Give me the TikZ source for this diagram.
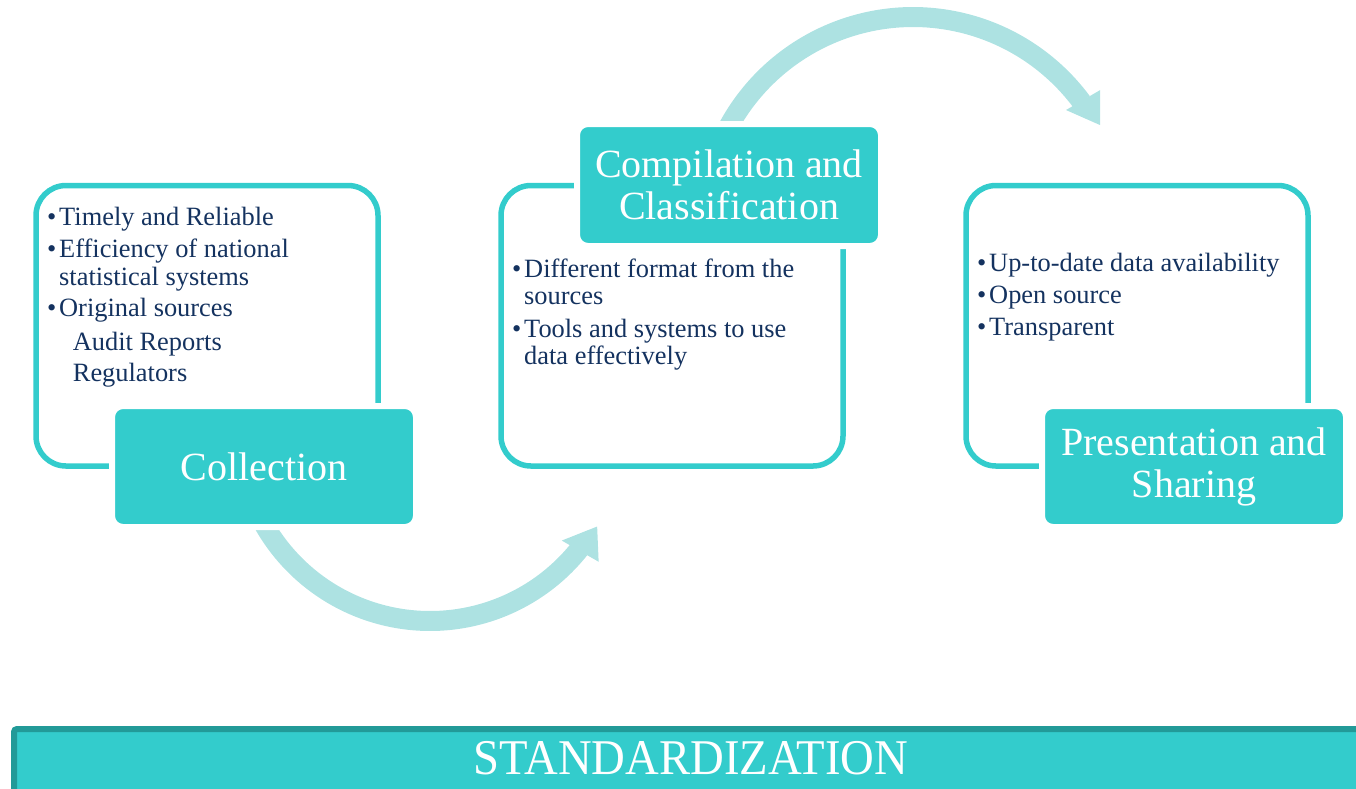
\documentclass[tikz,border=0pt]{standalone}
\usepackage{fontspec}
\setmainfont{Liberation Serif}
\definecolor{tealbox}{RGB}{51,204,204}
\definecolor{arrowteal}{RGB}{173,226,226}
\definecolor{darkteal}{RGB}{34,154,152}
\definecolor{navytext}{RGB}{20,50,95}
\begin{document}
\begin{tikzpicture}[x=1pt,y=-1pt,
  outline/.style={draw=tealbox, line width=5.5pt, rounded corners=30pt, minimum width=342pt, minimum height=280.5pt, inner sep=0pt},
  labelbox/.style={fill=tealbox, draw=white, line width=6pt, rounded corners=11pt, minimum width=304pt, minimum height=121pt, inner sep=0pt, text=white, font=\fontsize{40}{42}\selectfont, align=center},
  bodytext/.style={anchor=base west, inner sep=0pt, text=navytext, font=\fontsize{26.4}{28}\selectfont},
  arrowshaft/.style={draw=arrowteal, line width=20pt},
  arrowheadfill/.style={fill=arrowteal},
]
\useasboundingbox (0,0) rectangle (1356,788);

% curved arrows
\draw[arrowshaft] plot[domain=155:38.5, samples=90] ({430+191*cos(\x)},{430+191*sin(\x)});
\fill[arrowheadfill] ({430+172*cos(40)},{430+172*sin(40)}) -- ({430+214*cos(38)},{430+214*sin(38)}) -- ({430+193*cos(30)},{430+193*sin(30)}) -- cycle;
\draw[arrowshaft] plot[domain=-155:-36.5, samples=90] ({913+210*cos(\x)},{227+210*sin(\x)});
\fill[arrowheadfill] ({913+192.6*cos(-37.4)},{227+192.6*sin(-37.4)}) -- ({913+231.8*cos(-36.2)},{227+231.8*sin(-36.2)}) -- ({913+213*cos(-28.6)},{227+213*sin(-28.6)}) -- cycle;

% outline boxes
\node (o1) [outline] at (207,325.75) {};
\node (o2) [outline] at (672,325.75) {};
\node (o3) [outline] at (1137,325.75) {};

% label boxes
\node (l1) [labelbox] at (264,466.5) {Collection};
\node (l2) [labelbox, minimum height=122pt] at (729,185) {Compilation and\\Classification};
\node (l3) [labelbox] at (1194,466.5) {Presentation and\\Sharing};

% body text
\node (b1a) [bodytext] at (47,225) {\makebox[12pt][l]{•}Timely and Reliable};
\node (b1b) [bodytext] at (47,257.3) {\makebox[12pt][l]{•}Efficiency of national};
\node (b1c) [bodytext] at (59,285) {statistical systems};
\node (b1d) [bodytext] at (47,316.7) {\makebox[12pt][l]{•}Original sources};
\node (b1e) [bodytext] at (72.7,350) {Audit Reports};
\node (b1f) [bodytext] at (72.7,381.7) {Regulators};

\node (b2a) [bodytext] at (512,277.3) {\makebox[12pt][l]{•}Different format from the};
\node (b2b) [bodytext] at (524,304.3) {sources};
\node (b2c) [bodytext] at (512,337.3) {\makebox[12pt][l]{•}Tools and systems to use};
\node (b2d) [bodytext] at (524,364.3) {data effectively};

\node (b3a) [bodytext] at (977,271) {\makebox[12pt][l]{•}Up-to-date data availability};
\node (b3b) [bodytext] at (977,303.3) {\makebox[12pt][l]{•}Open source};
\node (b3c) [bodytext] at (977,335.7) {\makebox[12pt][l]{•}Transparent};

% bottom bar
\node (bar) [draw=darkteal, fill=tealbox, line width=6pt, rounded corners=3pt, minimum width=1360pt, minimum height=68pt, anchor=north west, inner sep=0pt] at (11,726) {};
\node (std) [anchor=base, inner sep=0pt, text=white, font=\fontsize{50}{50}\selectfont, xscale=0.934] at (691,774) {STANDARDIZATION};
\end{tikzpicture}
\end{document}
